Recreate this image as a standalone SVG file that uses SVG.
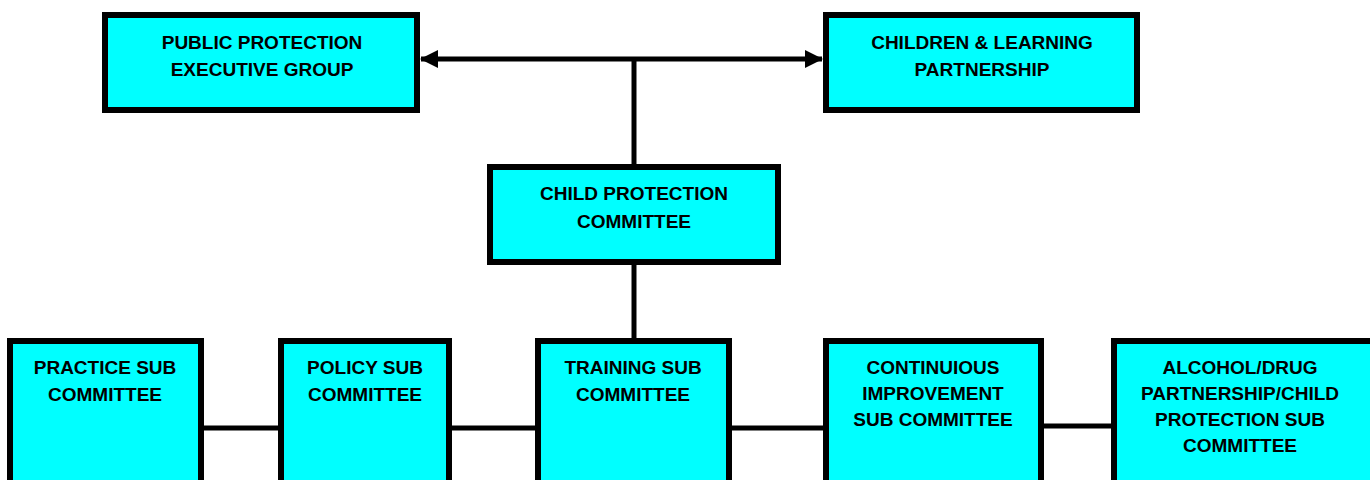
<svg xmlns="http://www.w3.org/2000/svg" width="1370" height="480" viewBox="0 0 1370 480">
<style>
.box{fill:#00FFFF;stroke:#000;stroke-width:6}
.lbl{font-family:"Liberation Sans",Arial,sans-serif;font-weight:bold;font-size:19px;fill:#000;text-anchor:middle}
.con{stroke:#000;stroke-width:5;fill:none}
</style>
<defs>
<marker id="ah" markerUnits="userSpaceOnUse" markerWidth="18" markerHeight="18" refX="17" refY="9" orient="auto-start-reverse" viewBox="0 0 18 18">
<path d="M0,0 L18,9 L0,18 Z" fill="#000"/>
</marker>
</defs>
<rect width="1370" height="480" fill="#fff"/>
<g id="connectors">
<line class="con" x1="421" y1="59" x2="822" y2="59" marker-start="url(#ah)" marker-end="url(#ah)"/>
<line class="con" x1="634" y1="59" x2="634" y2="166"/>
<line class="con" x1="634" y1="264" x2="634" y2="340"/>
<line class="con" x1="203" y1="428" x2="280" y2="428"/>
<line class="con" x1="451" y1="428" x2="537" y2="428"/>
<line class="con" x1="731" y1="428" x2="825" y2="428"/>
<line class="con" x1="1043" y1="426" x2="1113" y2="426"/>
</g>
<g id="public-protection">
<rect class="box" x="105" y="15" width="312" height="95"/>
<text class="lbl" x="262" y="49">PUBLIC PROTECTION</text>
<text class="lbl" x="262" y="76">EXECUTIVE GROUP</text>
</g>
<g id="children-learning">
<rect class="box" x="826" y="15" width="311" height="95"/>
<text class="lbl" x="982" y="49">CHILDREN &amp; LEARNING</text>
<text class="lbl" x="982" y="76">PARTNERSHIP</text>
</g>
<g id="child-protection">
<rect class="box" x="490" y="167" width="288" height="95"/>
<text class="lbl" x="634" y="200">CHILD PROTECTION</text>
<text class="lbl" x="634" y="228">COMMITTEE</text>
</g>
<g id="practice">
<rect class="box" x="10" y="341" width="191" height="160"/>
<text class="lbl" x="105" y="374">PRACTICE SUB</text>
<text class="lbl" x="105" y="401">COMMITTEE</text>
</g>
<g id="policy">
<rect class="box" x="281" y="341" width="168" height="160"/>
<text class="lbl" x="365" y="374">POLICY SUB</text>
<text class="lbl" x="365" y="401">COMMITTEE</text>
</g>
<g id="training">
<rect class="box" x="538" y="341" width="191" height="160"/>
<text class="lbl" x="633" y="374">TRAINING SUB</text>
<text class="lbl" x="633" y="401">COMMITTEE</text>
</g>
<g id="continuous">
<rect class="box" x="826" y="341" width="215" height="160"/>
<text class="lbl" x="933" y="374">CONTINUIOUS</text>
<text class="lbl" x="933" y="400">IMPROVEMENT</text>
<text class="lbl" x="933" y="426">SUB COMMITTEE</text>
</g>
<g id="alcohol-drug">
<rect class="box" x="1114" y="341" width="300" height="160"/>
<text class="lbl" x="1240" y="374">ALCOHOL/DRUG</text>
<text class="lbl" x="1240" y="400">PARTNERSHIP/CHILD</text>
<text class="lbl" x="1240" y="426">PROTECTION SUB</text>
<text class="lbl" x="1240" y="452">COMMITTEE</text>
</g>
</svg>
